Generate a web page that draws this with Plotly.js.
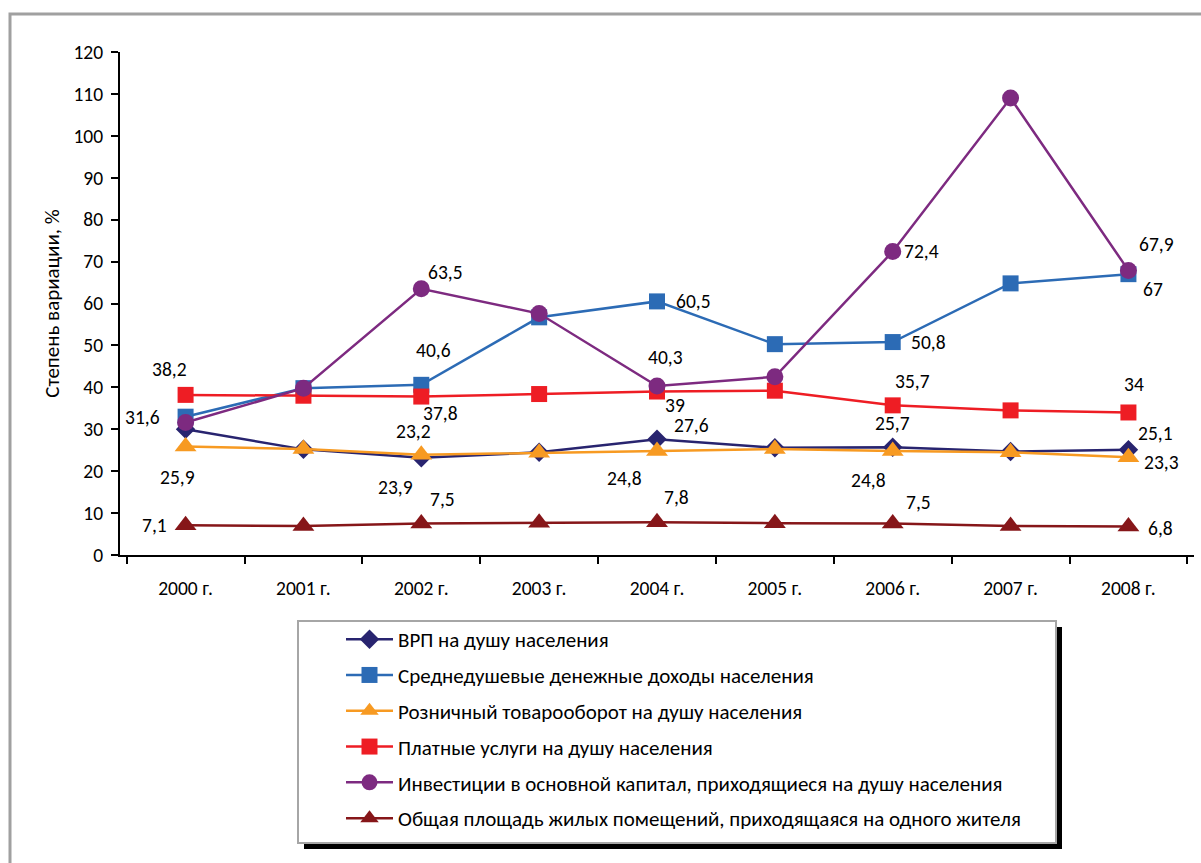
<!DOCTYPE html>
<html>
<head>
<meta charset="utf-8">
<script src="https://cdn.plot.ly/plotly-3.0.1.min.js"></script>
<style>html,body{margin:0;padding:0;background:#fff;}#chart{width:1201px;height:863px;}</style>
</head>
<body>
<div id="chart"></div>
<script>
// ---- data ----
const categories = ['2000 г.', '2001 г.', '2002 г.', '2003 г.', '2004 г.', '2005 г.', '2006 г.', '2007 г.', '2008 г.'];
const seriesNames = [
  'ВРП на душу населения',
  'Среднедушевые денежные доходы населения',
  'Розничный товарооборот на душу населения',
  'Платные услуги на душу населения',
  'Инвестиции в основной капитал, приходящиеся на душу населения',
  'Общая площадь жилых помещений, приходящаяся на одного жителя'
];
const vrp      = [30.0, 25.2, 23.2, 24.5, 27.6, 25.6, 25.7, 24.7, 25.1];
const income   = [33.0, 39.8, 40.6, 56.7, 60.5, 50.3, 50.8, 64.8, 67];
const retail   = [25.9, 25.3, 23.9, 24.4, 24.8, 25.3, 24.8, 24.5, 23.3];
const services = [38.2, 38.0, 37.8, 38.4, 39, 39.2, 35.7, 34.5, 34];
const invest   = [31.6, 39.8, 63.5, 57.6, 40.3, 42.5, 72.4, 109.0, 67.9];
const housing  = [7.1, 6.9, 7.5, 7.7, 7.8, 7.6, 7.5, 6.9, 6.8];
const yTickVals = [0, 10, 20, 30, 40, 50, 60, 70, 80, 90, 100, 110, 120];
// which points carry a value label: [series index, category index]
const labeledPoints = [
  [0,2],[0,4],[0,6],[0,8],
  [1,2],[1,4],[1,6],[1,8],
  [2,0],[2,2],[2,4],[2,6],[2,8],
  [3,0],[3,2],[3,4],[3,6],[3,8],
  [4,0],[4,2],[4,4],[4,6],[4,8],
  [5,0],[5,2],[5,4],[5,6],[5,8]
];

// ---- styles ----
const allSeries = [vrp, income, retail, services, invest, housing];
const colors  = ['#28246F', '#2C6BB5', '#F79A22', '#EE1D24', '#7D2A80', '#861619'];
const symbols = ['diamond', 'square', 'triangle-up', 'square', 'circle', 'triangle-up'];
const msizes  = [15, 16, 19, 16, 17, 19];
// label offsets in px (dx right, dy down) for labeledPoints
const labelOffsets = [
  [-8,-27],[34,-14],[0,-24],[27,-17],
  [12,-35],[36,0],[36,0],[25,15],
  [-8,31],[-26,32],[-33,27],[-24,29],[33,5],
  [-16,-26],[19,16],[18,13],[20,-24],[6,-28],
  [-43,-6],[24,-17],[8,-29],[29,-1],[28,-26],
  [-31,0],[21,-25],[19,-25],[26,-22],[32,1]
];
const FONT = 'Carlito, Calibri, "Liberation Sans", Arial, sans-serif';

const W = 1201, H = 863;
const L = 120, R = 7, T = 52, B = 308;
const pw = W - L - R, ph = H - T - B;
const px = v => (v - L) / pw;
const py = v => (H - B - v) / ph;

const traces = allSeries.map((vals, i) => ({
  type: 'scatter', mode: 'lines+markers',
  x: categories, y: vals, name: seriesNames[i],
  legendgroup: 'g' + i,
  line: {color: colors[i], width: 2.5},
  marker: {symbol: symbols[i], size: msizes[i], color: colors[i]},
  hoverinfo: 'skip'
}));

const annotations = labeledPoints.map((p, k) => ({
  x: categories[p[1]], y: allSeries[p[0]][p[1]], xref: 'x', yref: 'y',
  text: String(allSeries[p[0]][p[1]]).replace('.', ','),
  showarrow: false,
  xshift: labelOffsets[k][0], yshift: -labelOffsets[k][1],
  font: {family: FONT, size: 19.5, color: '#000'}
}));

const shapes = [
  // outer frame
  {type: 'rect', xref: 'paper', yref: 'paper', x0: px(10), x1: px(1215), y0: py(14), y1: py(880),
   line: {color: '#A0A0A0', width: 3}, fillcolor: 'rgba(0,0,0,0)', layer: 'below'},
  // legend shadow
  {type: 'rect', xref: 'paper', yref: 'paper', x0: px(304), x1: px(1062), y0: py(627), y1: py(849),
   line: {width: 0}, fillcolor: '#000', layer: 'above'},
  // legend box
  {type: 'rect', xref: 'paper', yref: 'paper', x0: px(298), x1: px(1056), y0: py(621), y1: py(843),
   line: {color: '#A6A6A6', width: 2}, fillcolor: '#fff', layer: 'above'}
];

const layout = {
  width: W, height: H,
  margin: {l: L, r: R, t: T, b: B, pad: 0},
  paper_bgcolor: '#fff', plot_bgcolor: 'rgba(0,0,0,0)',
  font: {family: FONT, size: 19.5, color: '#000'},
  showlegend: true,
  legend: {
    x: px(341), y: py(619), xanchor: 'left', yanchor: 'top',
    orientation: 'v', bgcolor: 'rgba(0,0,0,0)', borderwidth: 0,
    tracegroupgap: 5.5, font: {family: FONT, size: 21, color: '#000'},
    itemwidth: 47
  },
  xaxis: {
    type: 'category', categoryorder: 'array', categoryarray: categories,
    tickson: 'boundaries', ticks: 'outside', ticklen: 7, tickwidth: 2, tickcolor: '#000',
    showline: true, linewidth: 2, linecolor: '#000', showgrid: false, zeroline: false,
    tickfont: {family: FONT, size: 19.5}, ticklabelstandoff: 15, fixedrange: true
  },
  yaxis: {
    range: [0, 120], tickvals: yTickVals, ticks: 'outside', ticklen: 7, tickwidth: 2, tickcolor: '#000',
    showline: true, linewidth: 2, linecolor: '#000', showgrid: false, zeroline: false,
    tickfont: {family: FONT, size: 19.5}, ticklabelstandoff: 4, automargin: false,
    title: {text: 'Степень вариации, %', font: {family: FONT, size: 21}, standoff: 8},
    fixedrange: true
  },
  shapes: shapes,
  annotations: annotations
};

Plotly.newPlot('chart', traces, layout, {displayModeBar: false, staticPlot: true});
</script>
</body>
</html>
